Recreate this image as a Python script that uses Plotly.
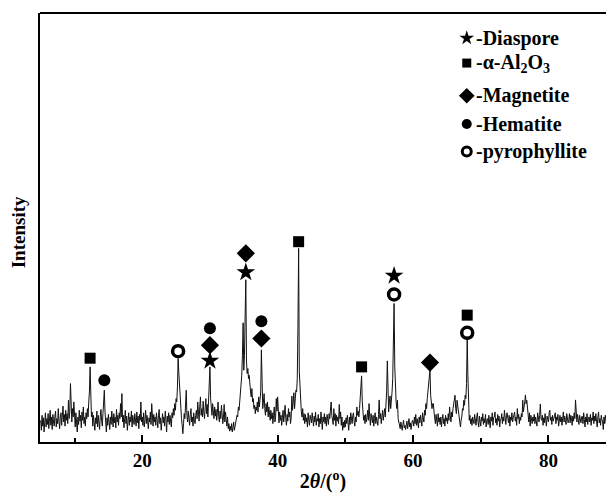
import numpy as np
import plotly.graph_objects as go

# XRD step scan: 2theta from 5.0 deg, step 0.1 deg (one row per degree)
scan_start = 5.0
scan_step = 0.1
intensity = [
    130, 70, 160, 95, 145, 60, 120, 175, 90, 140,        # 5
    105, 170, 80, 135, 190, 100, 150, 75, 165, 120,      # 6
    95, 155, 185, 90, 140, 110, 200, 125, 80, 150,       # 7
    175, 100, 140, 215, 120, 165, 95, 190, 130, 170,     # 8
    110, 250, 140, 180, 350, 160, 120, 200, 150, 240,    # 9
    130, 90, 175, 120, 60, 150, 105, 190, 125, 160,      # 10
    85, 180, 130, 210, 110, 150, 95, 175, 140, 200,      # 11
    150, 240, 300, 450, 200, 150, 180, 95, 160, 130,     # 12
    70, 145, 110, 185, 90, 160, 120, 75, 150, 195,       # 13
    130, 95, 170, 220, 310, 180, 120, 60, 145, 100,      # 14
    165, 120, 75, 150, 105, 185, 130, 90, 170, 115,      # 15
    150, 85, 195, 120, 160, 100, 175, 140, 230, 150,     # 16
    290, 120, 160, 85, 140, 190, 110, 155, 70, 135,      # 17
    175, 100, 150, 120, 185, 90, 160, 130, 105, 170,     # 18
    140, 95, 180, 115, 155, 80, 165, 130, 240, 120,      # 19
    150, 100, 175, 90, 135, 190, 110, 160, 125, 80,      # 20
    145, 120, 180, 105, 230, 140, 95, 165, 120, 150,     # 21
    100, 175, 130, 85, 160, 195, 110, 145, 70, 135,      # 22
    170, 115, 150, 95, 185, 130, 60, 155, 120, 175,      # 23
    105, 160, 130, 90, 175, 145, 200, 160, 230, 190,     # 24
    260, 240, 330, 500, 420, 330, 260, 180, 140, 100,    # 25
    50, 110, 170, 140, 220, 310, 160, 120, 185, 140,     # 26
    100, 165, 200, 120, 150, 95, 175, 135, 110, 160,     # 27
    190, 140, 240, 180, 125, 215, 270, 160, 200, 150,    # 28
    245, 180, 140, 210, 260, 170, 225, 150, 250, 280,    # 29
    450, 260, 190, 160, 230, 180, 140, 210, 155, 195,    # 30
    130, 175, 240, 150, 120, 185, 140, 220, 160, 110,    # 31
    150, 225, 120, 180, 135, 95, 150, 80, 110, 65,       # 32
    95, 70, 110, 60, 85, 120, 70, 95, 110, 130,          # 33
    160, 150, 210, 190, 250, 300, 330, 400, 520, 714,    # 34
    430, 520, 760, 972, 480, 410, 440, 380, 400, 330,    # 35
    300, 270, 320, 240, 260, 200, 220, 170, 210, 190,    # 36
    240, 180, 270, 210, 250, 300, 552, 280, 200, 240,    # 37
    290, 200, 160, 230, 180, 240, 150, 210, 170, 130,    # 38
    190, 140, 175, 110, 160, 210, 120, 150, 260, 185,    # 39
    270, 150, 115, 180, 130, 160, 100, 145, 190, 120,    # 40
    175, 220, 140, 100, 165, 125, 200, 150, 180, 110,    # 41
    145, 275, 190, 230, 295, 200, 250, 310, 300, 380,    # 42
    700, 1160, 420, 300, 230, 180, 150, 200, 130, 170,   # 43
    110, 165, 120, 145, 90, 175, 130, 100, 160, 140,     # 44
    115, 175, 130, 95, 155, 120, 180, 100, 140, 125,     # 45
    165, 90, 140, 110, 180, 135, 75, 150, 120, 170,      # 46
    110, 150, 95, 165, 130, 105, 170, 140, 190, 240,     # 47
    160, 140, 105, 200, 130, 170, 95, 160, 125, 150,     # 48
    110, 225, 140, 180, 100, 150, 70, 120, 85, 130,      # 49
    90, 145, 110, 160, 120, 70, 150, 105, 175, 130,      # 50
    110, 160, 175, 125, 95, 150, 120, 210, 160, 185,     # 51
    150, 200, 260, 320, 396, 240, 180, 130, 160, 110,    # 52
    165, 120, 145, 190, 130, 230, 150, 100, 170, 140,    # 53
    115, 160, 95, 140, 175, 110, 150, 125, 100, 165,     # 54
    252, 140, 170, 110, 150, 190, 130, 160, 200, 150,    # 55
    230, 300, 486, 220, 180, 240, 276, 200, 240, 300,    # 56
    380, 600, 830, 450, 300, 240, 200, 250, 140, 115,    # 57
    110, 80, 120, 95, 70, 105, 130, 85, 100, 75,         # 58
    95, 125, 80, 110, 140, 90, 115, 75, 105, 130,        # 59
    125, 95, 150, 110, 165, 100, 140, 120, 85, 150,      # 60
    115, 160, 130, 95, 175, 140, 120, 190, 160, 230,     # 61
    200, 260, 300, 350, 380, 432, 280, 250, 200, 230,    # 62
    230, 180, 150, 110, 165, 130, 95, 170, 120, 145,     # 63
    105, 150, 90, 135, 165, 110, 140, 95, 160, 125,      # 64
    145, 110, 170, 130, 210, 160, 120, 180, 150, 200,    # 65
    230, 260, 280, 200, 170, 250, 210, 190, 150, 120,    # 66
    90, 130, 150, 200, 190, 250, 220, 280, 260, 350,     # 67
    630, 400, 170, 130, 160, 110, 140, 100, 150, 125,    # 68
    110, 165, 130, 100, 145, 175, 120, 90, 155, 130,     # 69
    95, 150, 125, 170, 105, 140, 115, 165, 90, 130,      # 70
    140, 105, 160, 120, 85, 150, 125, 175, 100, 145,     # 71
    150, 180, 115, 140, 100, 165, 125, 155, 90, 135,     # 72
    135, 170, 110, 150, 125, 190, 140, 105, 160, 175,    # 73
    140, 115, 160, 95, 150, 130, 175, 120, 145, 180,     # 74
    180, 125, 150, 100, 200, 140, 165, 110, 150, 130,    # 75
    170, 150, 250, 180, 200, 240, 282, 230, 250, 190,    # 76
    150, 120, 175, 95, 160, 130, 110, 150, 125, 165,     # 77
    110, 150, 125, 95, 175, 140, 120, 160, 228, 140,     # 78
    130, 160, 100, 145, 115, 170, 135, 95, 155, 140,     # 79
    120, 175, 190, 130, 150, 105, 160, 125, 145, 170,    # 80
    175, 110, 150, 130, 165, 95, 140, 160, 120, 150,     # 81
    100, 145, 180, 120, 155, 130, 105, 170, 140, 115,    # 82
    130, 170, 115, 160, 145, 100, 155, 125, 175, 140,    # 83
    252, 140, 120, 165, 130, 105, 160, 140, 115, 150,    # 84
    155, 110, 175, 135, 90, 150, 120, 170, 105, 140,     # 85
    150, 120, 165, 100, 145, 130, 180, 110, 155, 125,    # 86
    170, 125, 90, 150, 180, 115, 140, 100, 160, 135,     # 87
    120, 75, 150, 110, 160, 130, 95, 145, 120, 155,      # 88
]
two_theta = np.round(scan_start + scan_step * np.arange(len(intensity)), 1)

# Phase identification markers (2theta, marker height)
diaspore_x = [30.0, 35.3, 57.2]
diaspore_y = [486, 1016, 996]
alumina_x = [12.3, 43.1, 52.4, 68.0]
alumina_y = [502, 1200, 450, 760]
magnetite_x = [30.0, 35.3, 37.6, 62.5]
magnetite_y = [580, 1130, 620, 476]
hematite_x = [14.4, 30.0, 37.6]
hematite_y = [370, 682, 724]
pyrophyllite_x = [25.3, 57.2, 68.0]
pyrophyllite_y = [544, 884, 654]

# Key entries
phase_labels = ["-Diaspore", "-\u03b1-Al<sub>2</sub>O<sub>3</sub>", "-Magnetite",
                "-Hematite", "-pyrophyllite"]
key_y = [0.9416, 0.8833, 0.807, 0.7414, 0.677]

FONT = "Liberation Serif"
INK = "black"

fig = go.Figure()
fig.add_trace(go.Scatter(x=two_theta, y=intensity, mode="lines",
                         line=dict(color="#111111", width=1), showlegend=False,
                         hoverinfo="skip"))

phase_styles = [
    (diaspore_x, diaspore_y, dict(symbol="star", size=14, color=INK, line=dict(width=0))),
    (alumina_x, alumina_y, dict(symbol="square", size=11, color=INK, line=dict(width=0))),
    (magnetite_x, magnetite_y, dict(symbol="diamond", size=14, color=INK, line=dict(width=0))),
    (hematite_x, hematite_y, dict(symbol="circle", size=12, color=INK, line=dict(width=0))),
    (pyrophyllite_x, pyrophyllite_y, dict(symbol="circle-open", size=11,
                                          color=INK, line=dict(width=3.5, color=INK))),
]
for xs, ys, mk in phase_styles:
    fig.add_trace(go.Scatter(x=xs, y=ys, mode="markers", marker=mk,
                             showlegend=False, hoverinfo="skip"))

# Key symbols on an overlay axis in plot-fraction units
key_markers = [
    dict(symbol="star", size=11, color=INK, line=dict(width=0)),
    dict(symbol="square", size=9, color=INK, line=dict(width=0)),
    dict(symbol="diamond", size=12, color=INK, line=dict(width=0)),
    dict(symbol="circle", size=10, color=INK, line=dict(width=0)),
    dict(symbol="circle-open", size=9, color=INK, line=dict(width=3, color=INK)),
]
for ky, mk in zip(key_y, key_markers):
    fig.add_trace(go.Scatter(x=[0.754], y=[ky], mode="markers", marker=mk,
                             xaxis="x2", yaxis="y2", showlegend=False,
                             hoverinfo="skip"))

for ky, lab in zip(key_y, phase_labels):
    fig.add_annotation(x=0.766, y=ky, xref="paper", yref="paper", text=lab,
                       showarrow=False, xanchor="left", yanchor="middle",
                       font=dict(family=FONT, size=20, color=INK, weight="bold"))

fig.add_annotation(x=-0.038, y=0.49, xref="paper", yref="paper",
                   text="Intensity", textangle=-90, showarrow=False,
                   xanchor="center", yanchor="middle",
                   font=dict(family=FONT, size=19, color=INK, weight="bold"))

fig.add_shape(type="line", xref="paper", yref="paper", x0=0, x1=1, y0=1, y1=1,
              line=dict(color=INK, width=2))

fig.update_layout(
    width=606, height=493,
    margin=dict(l=40, r=0, t=13, b=51),
    paper_bgcolor="white", plot_bgcolor="white",
    font=dict(family=FONT, size=19, color=INK, weight="bold"),
    xaxis=dict(range=[4.9, 88.5], showgrid=False, zeroline=False,
               showline=True, linecolor=INK, linewidth=2,
               tickvals=[20, 40, 60, 80], ticks="inside", ticklen=7,
               tickwidth=2, tickcolor=INK,
               minor=dict(tickvals=[10, 30, 50, 70], ticks="inside",
                          ticklen=4, tickwidth=2, tickcolor=INK),
               tickfont=dict(family=FONT, size=19, color=INK, weight="bold"),
               title=dict(text="2<i>\u03b8</i>/(<sup>o</sup>)", standoff=6,
                          font=dict(family=FONT, size=20, color=INK, weight="bold"))),
    yaxis=dict(range=[0, 2570], showgrid=False, zeroline=False,
               showline=True, linecolor=INK, linewidth=2,
               showticklabels=False, ticks=""),
    xaxis2=dict(overlaying="x", range=[0, 1], visible=False),
    yaxis2=dict(overlaying="y", range=[0, 1], visible=False),
)

fig.write_html("out.html")
